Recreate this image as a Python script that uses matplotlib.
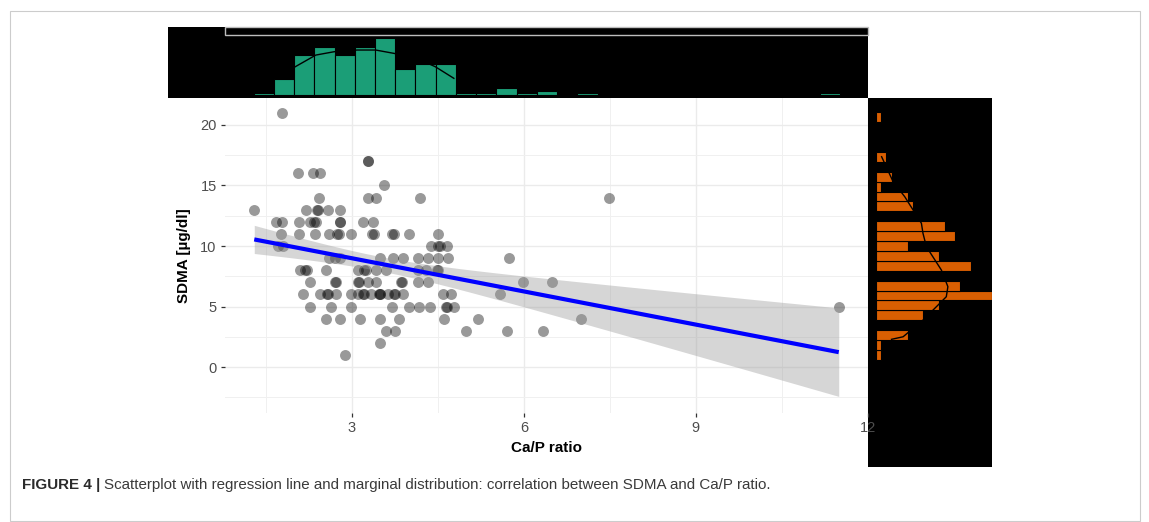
import numpy as np
import matplotlib.pyplot as plt
from matplotlib.patches import Rectangle

plt.rcParams['font.family'] = ['Liberation Sans', 'DejaVu Sans']

# scatter: SDMA rows (µg/dl) and the Ca/P ratio of every point on that row
sdma_rows = [21, 17, 16, 15, 14, 13, 12, 11, 10, 9, 8, 7, 6, 5, 4, 3, 2, 1]
ca_p_rows = [
    [1.79],
    [3.28, 3.28],
    [2.07, 2.33, 2.44],
    [3.56],
    [2.43, 3.28, 3.42, 4.19, 7.49],
    [1.30, 2.20, 2.40, 2.42, 2.59, 2.79],
    [1.68, 1.79, 2.08, 2.27, 2.35, 2.38, 2.79, 2.80, 3.20, 3.37],
    [1.76, 2.08, 2.36, 2.60, 2.75, 2.77, 2.99, 3.36, 3.38, 3.71, 3.73, 4.00, 4.50],
    [1.72, 1.80, 4.38, 4.50, 4.53, 4.66],
    [2.60, 2.70, 2.80, 3.49, 3.72, 3.89, 4.15, 4.33, 4.50, 4.67, 5.74],
    [2.10, 2.19, 2.22, 2.55, 3.11, 3.22, 3.24, 3.43, 3.60, 4.15, 4.30, 4.49, 4.51],
    [2.27, 2.71, 2.73, 3.10, 3.12, 3.28, 3.43, 3.85, 3.87, 4.15, 4.33, 5.99, 6.49],
    [2.15, 2.44, 2.56, 2.58, 2.73, 2.99, 3.11, 3.19, 3.21, 3.34, 3.48, 3.49, 3.50,
     3.63, 3.74, 3.76, 3.89, 4.59, 4.73, 5.59],
    [2.27, 2.63, 2.99, 3.71, 4.00, 4.17, 4.37, 4.64, 4.66, 4.79, 11.49],
    [2.55, 2.79, 3.15, 3.50, 3.82, 4.60, 5.20, 6.99],
    [3.60, 3.75, 4.99, 5.71, 6.33],
    [3.50],
    [2.88],
]

# top marginal: histogram of Ca/P ratio
top_bin_width = 0.3517
top_first_center = 1.465
top_counts = [1, 7, 17, 20, 17, 20, 24, 11, 13, 13, 1, 1, 3, 1, 2, 0, 1,
              0, 0, 0, 0, 0, 0, 0, 0, 0, 0, 0, 1]
top_curve_x = [2.01, 2.37, 2.69, 3.09, 3.41, 3.73, 4.13, 4.45, 4.77]
top_curve_y = [11.9, 16.8, 18.2, 18.9, 18.9, 17.5, 15.4, 11.9, 7.1]

# right marginal: histogram of SDMA
right_bin_height = 0.818
right_bin_centers = [1.0, 1.82, 2.64, 4.27, 5.09, 5.91, 6.73, 8.36, 9.18,
                     10.0, 10.82, 11.63, 13.27, 14.09, 14.9, 15.72, 17.36, 20.63]
right_counts = [1, 1, 6, 9, 12, 22, 16, 18, 12, 6, 15, 13, 7, 6, 1, 3, 2, 1]
right_curve_x = [1.08, 3.26, 5.47, 7.04, 8.62, 8.92, 9.57, 12.4, 13.64, 13.34,
                 11.45, 8.92, 5.15, 2.96]
right_curve_y = [17.38, 15.31, 14.07, 12.98, 11.88, 11.05, 9.94, 8.02, 6.64, 5.81,
                 4.98, 3.88, 2.50, 2.29]

W, H = 1149, 522
fig = plt.figure(figsize=(W / 100, H / 100), dpi=100)


def box(x0, y0, x1, y1):
    # pixel box (top-left origin) -> figure fraction rect
    return [x0 / W, 1 - y1 / H, (x1 - x0) / W, (y1 - y0) / H]


# marginal panels first so the main tick labels sit on top of them
ax_top = fig.add_axes(box(168, 27, 868, 98))
ax_right = fig.add_axes(box(868, 98, 992, 467))
ax = fig.add_axes(box(225, 98, 868, 413))

for a in (ax_top, ax_right):
    a.set_facecolor('black')
    a.set_xticks([])
    a.set_yticks([])
    for s in a.spines.values():
        s.set_visible(False)

centers = top_first_center + top_bin_width * np.arange(len(top_counts))
keep = np.array(top_counts) > 0
ax_top.bar(centers[keep], np.array(top_counts)[keep], width=top_bin_width,
           color='#1b9e77', edgecolor='black', linewidth=0.8)
ax_top.plot(top_curve_x, top_curve_y, color='black', lw=1.0)
ax_top.set_xlim(-0.20, 11.97)
ax_top.set_ylim(-1.1, 28.5)

ax_right.barh(right_bin_centers, right_counts, height=right_bin_height,
              color='#d95f02', edgecolor='black', linewidth=0.8)
ax_right.plot(right_curve_x, right_curve_y, color='black', lw=1.0)
ax_right.set_xlim(-1.5, 22)
ax_right.set_ylim(-8.26, 22.23)

# main scatter + regression
x = np.concatenate([np.array(r, dtype=float) for r in ca_p_rows])
y = np.concatenate([np.full(len(r), v, dtype=float) for r, v in zip(ca_p_rows, sdma_rows)])

ax.scatter(x, y, s=62, color='black', alpha=0.4, linewidths=0, zorder=2)

n = len(x)
b1, b0 = np.polyfit(x, y, 1)
xg = np.linspace(x.min(), x.max(), 100)
yg = b0 + b1 * xg
resid = y - (b0 + b1 * x)
sd = np.sqrt(np.sum(resid ** 2) / (n - 2))
sxx = np.sum((x - x.mean()) ** 2)
se = sd * np.sqrt(1 / n + (xg - x.mean()) ** 2 / sxx)
ax.fill_between(xg, yg - 1.98 * se, yg + 1.98 * se, color='#999999', alpha=0.4,
                linewidth=0, zorder=3)
ax.plot(xg, yg, color='#0000ff', lw=3.0, zorder=4, solid_capstyle='butt')

ax.set_xlim(0.79, 11.97)
ax.set_ylim(-3.80, 22.23)
ax.set_xticks([3, 6, 9, 12])
ax.set_xticks([1.5, 4.5, 7.5, 10.5], minor=True)
ax.set_yticks([0, 5, 10, 15, 20])
ax.set_yticks([-2.5, 2.5, 7.5, 12.5, 17.5], minor=True)
ax.grid(which='major', color='#ebebeb', lw=1.0)
ax.grid(which='minor', color='#f0f0f0', lw=0.7)
ax.set_axisbelow(True)
for s in ax.spines.values():
    s.set_visible(False)
ax.tick_params(which='major', length=3, width=0.9, color='#333333',
               labelsize=10.5, labelcolor='#4d4d4d', pad=3)
ax.tick_params(which='minor', length=0)
ax.set_xlabel('Ca/P ratio', fontsize=11, fontweight='bold', labelpad=4)
ax.set_ylabel('SDMA [µg/dl]', fontsize=11, fontweight='bold', labelpad=7)

# thin grey box at the top of the marginal strip
fig.add_artist(Rectangle((225 / W, 1 - 35 / H), (868 - 225) / W, 8 / H,
                         transform=fig.transFigure, fill=False,
                         edgecolor='#bdbdbd', lw=1.0))

# page frame
fig.add_artist(Rectangle((10 / W, 1 - 521 / H), 1130 / W, 510 / H,
                         transform=fig.transFigure, fill=False,
                         edgecolor='#cccccc', lw=0.8))

# caption
t1 = fig.text(22 / W, 1 - 489 / H, 'FIGURE 4 |', fontsize=10.9, fontweight='bold',
              color='#2b2b2b', va='baseline')
fig.canvas.draw()
bb = t1.get_window_extent()
fig.text((bb.x1 + 4) / W, 1 - 489 / H,
         'Scatterplot with regression line and marginal distribution: '
         'correlation between SDMA and Ca/P ratio.',
         fontsize=10.9, color='#3a3a3a', va='baseline')

fig.savefig('out.png', dpi=100)
